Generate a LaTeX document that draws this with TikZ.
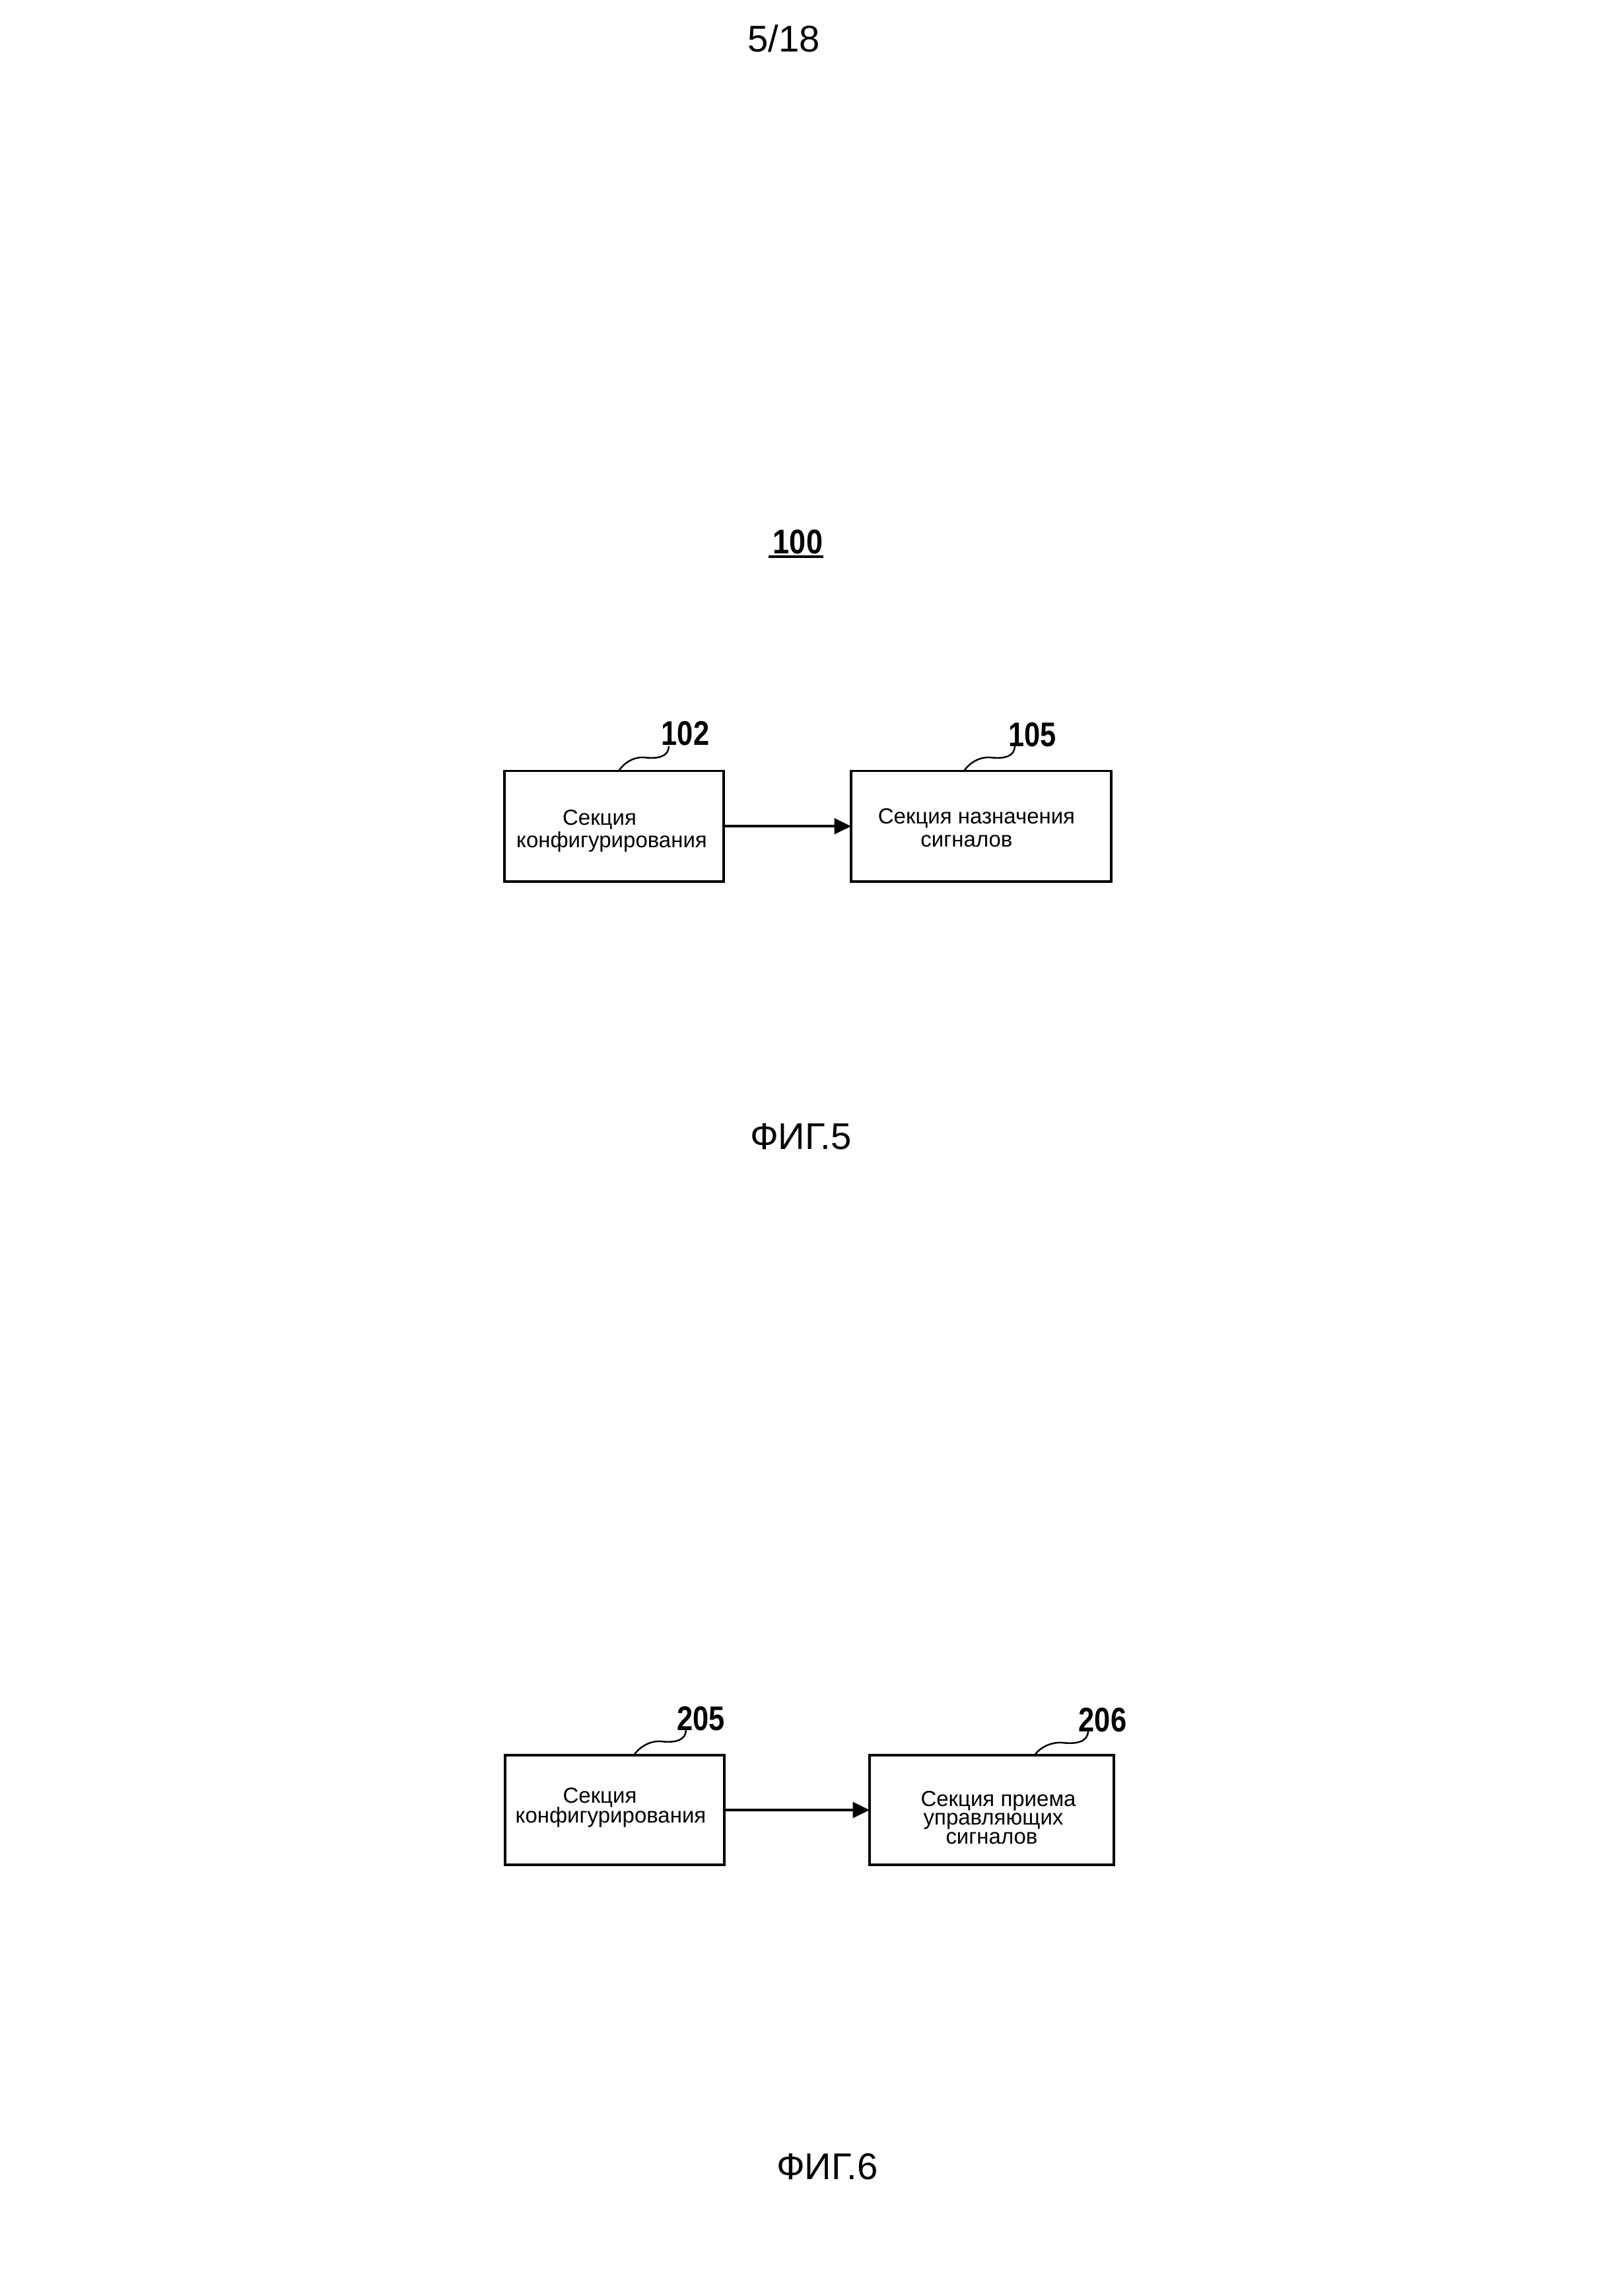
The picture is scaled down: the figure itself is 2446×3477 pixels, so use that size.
\documentclass[tikz,border=0pt]{standalone}
\usepackage{fontspec}
\setmainfont{Liberation Sans}
\usepackage{graphicx}
\usetikzlibrary{arrows.meta}
\newlength{\pxu}
\setlength{\pxu}{0.2434pt}
\newcommand{\boxlines}[2]{\vtop{\baselineskip=#1\pxu\lineskiplimit=-\maxdimen\lineskip=0pt\halign{\hfil##\hfil\cr#2\crcr}}}
\tikzset{
  blk/.style={draw, line width=0.85pt, inner sep=0pt, outer sep=0pt,
    font=\fontsize{8.03pt}{9pt}\selectfont},
  lbl/.style={font=\fontsize{12.6pt}{13pt}\selectfont\bfseries, inner sep=0pt, anchor=base},
  capt/.style={font=\fontsize{13.7pt}{14pt}\selectfont, inner sep=0pt, anchor=base},
  flow/.style={line width=0.95pt, -{Triangle[length=6.2pt,width=5.8pt]}},
  leader/.style={line width=0.6pt},
}
\begin{document}
\begin{tikzpicture}[x=0.2434pt,y=-0.2434pt]
\useasboundingbox[fill=white] (0,0) rectangle (2446,3477);

% page number and device label
\node[capt] (page) at (1187,78) {5/18};
\node[lbl] (l100) at (1208.5,838) {\scalebox{0.87}[1]{100}};
\draw[line width=0.95pt] ([xshift=-1.5pt,yshift=-0.85pt]l100.south west) -- ([yshift=-0.85pt]l100.south east);

% FIG.5
\node[blk, minimum width=332\pxu, minimum height=167.5\pxu, text height=55.5\pxu, text depth=60\pxu]
  (b1) at (930,1251.25) {\boxlines{34}{Секция\hspace*{44\pxu}\cr конфигурирования\hspace*{7\pxu}}};
\node[blk, minimum width=394\pxu, minimum height=167.5\pxu, text height=51.5\pxu, text depth=60\pxu]
  (b2) at (1486,1251.25) {\boxlines{35}{Секция назначения\hspace*{14\pxu}\cr сигналов\hspace*{44\pxu}}};
\draw[flow] (b1.east) -- (b2.west);

\node[lbl] (l102) at (1038,1128) {\scalebox{0.84}[1]{102}};
\node[lbl] (l105) at (1563.5,1130) {\scalebox{0.84}[1]{105}};
\coordinate (s102) at (1013,1130);
\coordinate (e102) at (937,1167.5);
\coordinate (s105) at (1537,1130);
\coordinate (e105) at (1460,1167.5);
\draw[leader] (s102) .. controls +(-1,18) and +(18,2) .. ++(-38,17) .. controls +(-16,-1) and +(8,-12) .. (e102);
\draw[leader] (s105) .. controls +(-1,18) and +(18,2) .. ++(-38,17) .. controls +(-16,-1) and +(8,-12) .. (e105);

\node[capt] (f5) at (1213,1740) {ФИГ.5};

% FIG.6
\node[blk, minimum width=332\pxu, minimum height=166\pxu, text height=38\pxu, text depth=60\pxu]
  (c1) at (931,2741) {\boxlines{30}{Секция\hspace*{45\pxu}\cr конфигурирования\hspace*{12\pxu}}};
\node[blk, minimum width=370\pxu, minimum height=166\pxu, text height=48\pxu, text depth=60\pxu]
  (c2) at (1502,2741) {\boxlines{28.5}{\hspace*{20\pxu}Секция приема\cr \hspace*{5\pxu}управляющих\cr сигналов}};
\draw[flow] (c1.east) -- (c2.west);

\node[lbl] (l205) at (1061.5,2620) {\scalebox{0.84}[1]{205}};
\node[lbl] (l206) at (1670,2622) {\scalebox{0.84}[1]{206}};
\coordinate (s205) at (1039,2620);
\coordinate (e205) at (960,2658);
\coordinate (s206) at (1648,2622);
\coordinate (e206) at (1567,2658);
\draw[leader] (s205) .. controls +(-1,18) and +(18,2) .. ++(-39,17) .. controls +(-16,-1) and +(8,-12) .. (e205);
\draw[leader] (s206) .. controls +(-1,18) and +(18,2) .. ++(-40,17) .. controls +(-16,-1) and +(8,-12) .. (e206);

\node[capt] (f6) at (1253,3300) {ФИГ.6};
\end{tikzpicture}
\end{document}
